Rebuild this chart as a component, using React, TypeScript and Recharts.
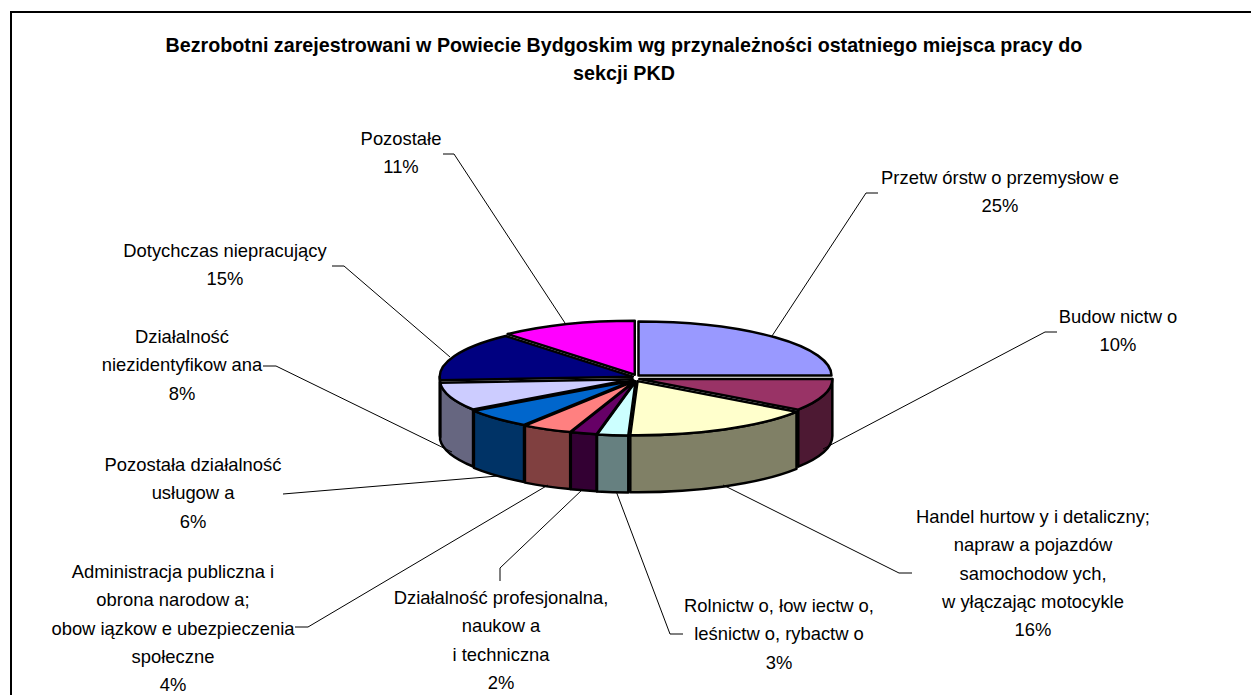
import { PieChart, Pie } from "recharts";

const titleLines = [
  "Bezrobotni zarejestrowani w Powiecie Bydgoskim wg przynależności ostatniego miejsca pracy do",
  "sekcji PKD",
];

const categories = [
  "Przetwórstwo przemysłowe",
  "Budownictwo",
  "Handel hurtowy i detaliczny; naprawa pojazdów samochodowych, wyłączając motocykle",
  "Rolnictwo, łowiectwo, leśnictwo, rybactwo",
  "Działalność profesjonalna, naukowa i techniczna",
  "Administracja publiczna i obrona narodowa; obowiązkowe ubezpieczenia społeczne",
  "Pozostała działalność usługowa",
  "Działalność niezidentyfikowana",
  "Dotychczas niepracujący",
  "Pozostałe",
];
// estimated from the slice edges, the labels show them rounded
const values = [25, 9.6, 16, 2.6, 2.2, 4.2, 5.9, 8.45, 14.6, 11.45];
const topColors = ["#9999FF", "#993366", "#FFFFCC", "#CCFFFF", "#660066", "#FF8080", "#0066CC", "#CCCCFF", "#000080", "#FF00FF"];
const sideColors = ["#4D4D80", "#4D1933", "#808066", "#668080", "#330033", "#804040", "#003366", "#666680", "#000040", "#800080"];

// how each label is wrapped, as in the picture
const labelLines = [
  ["Przetwórstwo przemysłowe"],
  ["Budownictwo"],
  ["Handel hurtowy i detaliczny;", "naprawa pojazdów", "samochodowych,", "wyłączając motocykle"],
  ["Rolnictwo, łowiectwo,", "leśnictwo, rybactwo"],
  ["Działalność profesjonalna,", "naukowa", "i techniczna"],
  ["Administracja publiczna i", "obrona narodowa;", "obowiązkowe ubezpieczenia", "społeczne"],
  ["Pozostała działalność", "usługowa"],
  ["Działalność", "niezidentyfikowana"],
  ["Dotychczas niepracujący"],
  ["Pozostałe"],
];

// label centre x, first line centre y
const labelPos = [
  [1000, 178], [1118, 317], [1033, 517], [779, 606], [501, 598],
  [173, 572], [193, 465], [182, 337], [225, 251], [401, 139],
];
const leaders = [
  "878,193 866,193 772,336",
  "1057,332 1045,332 823,449",
  "723,485 899,573 912,573",
  "616,491 670,634 683,634",
  "583,489 500,568 500,581",
  "548,485 308,627 295,627",
  "498,476 283,494",
  "263,366 276,366 452,452",
  "332,266 344,266 450,357",
  "443,154 454,154 565,323",
];

const chartData = categories.map((name, i) => ({ name, value: values[i], index: i }));

const CX = 636;
const CY = 378;
const RX = 193;
const SQUASH = 0.28;
const DEPTH = 57;
const EXPLODE = 3.5;
const LINE_H = 28.3;
const W_GAP = 5; // the source renderer leaves a gap after every "w"
const FONT = "'Liberation Sans', Arial, sans-serif";
const RAD = Math.PI / 180;

const Slice3D = (props: any) => {
  const { cx, cy, outerRadius: r, startAngle, endAngle, index } = props;
  const mid = (startAngle + endAngle) / 2;
  const ox = cx + EXPLODE * Math.cos(mid * RAD);
  const oy = cy - EXPLODE * Math.sin(mid * RAD);
  const ry = r * SQUASH;
  const pt = (a: number, dy = 0) =>
    `${ox + r * Math.cos(a * RAD)},${oy - ry * Math.sin(a * RAD) + dy}`;
  const large = startAngle - endAngle > 180 ? 1 : 0;

  // the rim only shows on the lower half of the ellipse, angles 0 to -180
  const a1 = Math.min(startAngle, 0);
  const a2 = Math.max(endAngle, -180);
  return (
    <g>
      {a1 > a2 && (
        <path
          d={`M${pt(a1)} A${r} ${ry} 0 0 1 ${pt(a2)} L${pt(a2, DEPTH)} A${r} ${ry} 0 0 0 ${pt(a1, DEPTH)} Z`}
          fill={sideColors[index]}
          stroke="#000"
          strokeWidth={2.5}
          strokeLinejoin="round"
        />
      )}
      <path
        d={`M${ox},${oy} L${pt(startAngle)} A${r} ${ry} 0 ${large} 1 ${pt(endAngle)} Z`}
        fill={topColors[index]}
        stroke="#000"
        strokeWidth={2.5}
        strokeLinejoin="round"
      />
    </g>
  );
};

const gappedLine = (line: string) => {
  const parts = line.split(/(?<=w)/);
  return parts.map((part, i) => (
    <tspan key={i} dx={i === 0 ? 0 : W_GAP}>
      {part}
    </tspan>
  ));
};

const renderLabel = ({ index }: any) => {
  const [x, y] = labelPos[index];
  const lines = [...labelLines[index], `${Math.round(values[index])}%`];
  return (
    <text key={index} textAnchor="middle" fontFamily={FONT} fontSize={18.4} fill="#000">
      {lines.map((line, i) => (
        <tspan key={i} x={x} y={y + i * LINE_H + 6}>
          {gappedLine(line)}
        </tspan>
      ))}
    </text>
  );
};

const renderLeader = ({ index }: any) => (
  <polyline key={index} points={leaders[index]} fill="none" stroke="#000" strokeWidth={1} />
);

export default function App() {
  return (
    <div style={{ position: "absolute", left: 0, top: 0, width: 1251, height: 695, overflow: "hidden", background: "#fff" }}>
      <PieChart width={1251} height={695} margin={{ top: 0, right: 0, bottom: 0, left: 0 }}>
        <rect x={11} y={12} width={1400} height={800} fill="none" stroke="#000" strokeWidth={2} />
        {titleLines.map((line, i) => (
          <text key={i} x={624} y={52 + i * 28} textAnchor="middle" fontFamily={FONT} fontWeight="bold" fontSize={19.7} fill="#000">
            {line}
          </text>
        ))}
        <Pie
          data={chartData}
          dataKey="value"
          nameKey="name"
          cx={CX}
          cy={CY}
          innerRadius={0}
          outerRadius={RX}
          startAngle={90}
          endAngle={-270}
          shape={Slice3D}
          label={renderLabel}
          labelLine={renderLeader}
          isAnimationActive={false}
        />
      </PieChart>
    </div>
  );
}
